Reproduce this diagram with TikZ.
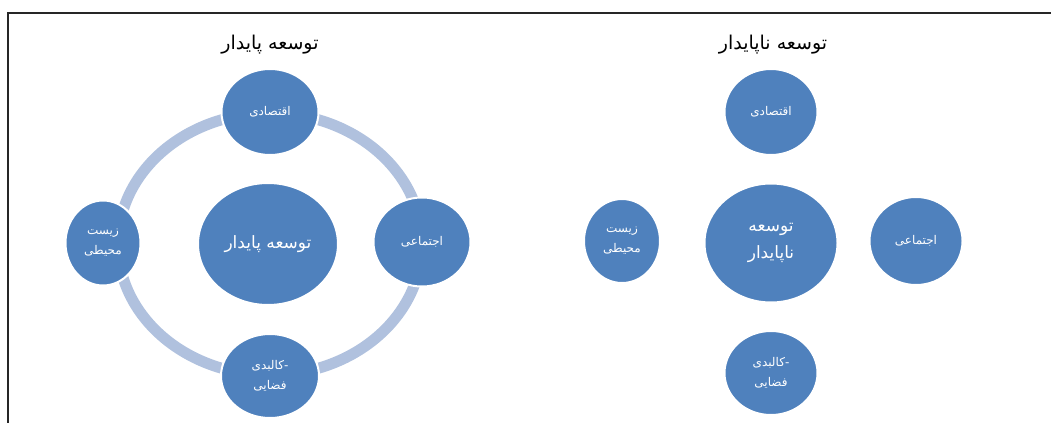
\documentclass[tikz,border=0pt]{standalone}
\usepackage{fontspec}
\usetikzlibrary{shapes.geometric}
\TeXXeTstate=1
\newfontfamily\arabicfont[Script=Arabic]{DejaVu Sans}
\newcommand{\ar}[1]{\beginR #1\endR}
\definecolor{bubble}{HTML}{4F81BD}
\definecolor{ringc}{HTML}{B0C1DE}
\tikzset{
  bub/.style={ellipse, fill=bubble, draw=white, line width=2pt, inner sep=0pt,
    text=white, align=center, font=\arabicfont\fontsize{12}{20}\selectfont},
  bigbub/.style={bub, font=\arabicfont\fontsize{17}{27}\selectfont},
  ttl/.style={font=\arabicfont\fontsize{19}{22}\selectfont, text=black, inner sep=0pt},
  ringline/.style={draw=ringc, line width=11pt},
  framel/.style={draw=black!85, line width=1.8pt}
}
\begin{document}
\begin{tikzpicture}[x=1pt,y=-1pt]
\useasboundingbox (0,0) rectangle (1051,423);
% frame
\coordinate (ftl) at (8,13);
\coordinate (ftr) at (1051,13);
\coordinate (fbl) at (8,423);
\draw[framel] (ftr) -- (ftl) -- (fbl);
% ---------- left diagram ----------
\node[ttl] (t1) at (270,45) {\ar{توسعه پایدار}};
\coordinate (rc) at (270,244);
\draw[ringline] (rc) ellipse [x radius=152pt, y radius=131pt];
\node[bigbub, minimum width=140pt, minimum height=122pt] (c1) at (268,244) {\ar{توسعه پایدار}};
\node[bub, minimum width=97pt, minimum height=86pt] (n1) at (270,112) {\ar{اقتصادی}};
\node[bub, minimum width=97pt, minimum height=89pt] (e1) at (422,242) {\ar{اجتماعی}};
\node[bub, minimum width=98pt, minimum height=84pt] (s1) at (270,376) {\ar{کالبدی}-\\\ar{فضایی}};
\node[bub, minimum width=75pt, minimum height=85pt] (w1) at (103,243) {\ar{زیست}\\\ar{محیطی}};
% ---------- right diagram ----------
\node[ttl] (t2) at (773,45) {\ar{توسعه ناپایدار}};
\node[bigbub, minimum width=133pt, minimum height=119pt] (c2) at (771,243) {\ar{توسعه}\\\ar{ناپایدار}};
\node[bub, minimum width=93pt, minimum height=86pt] (n2) at (771,112) {\ar{اقتصادی}};
\node[bub, minimum width=93pt, minimum height=88pt] (e2) at (916,241) {\ar{اجتماعی}};
\node[bub, minimum width=93pt, minimum height=84pt] (s2) at (771,373) {\ar{کالبدی}-\\\ar{فضایی}};
\node[bub, minimum width=76pt, minimum height=84pt] (w2) at (622,241) {\ar{زیست}\\\ar{محیطی}};
\end{tikzpicture}
\end{document}
